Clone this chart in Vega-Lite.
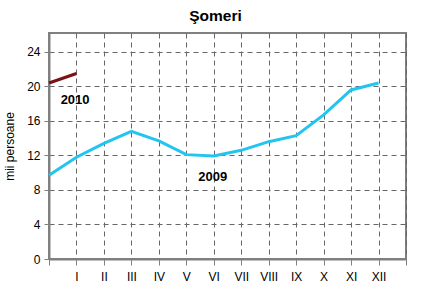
{
  "$schema": "https://vega.github.io/schema/vega-lite/v6.json",
  "width": 357,
  "height": 226,
  "autosize": "none",
  "padding": {"left": 49, "top": 33, "right": 34, "bottom": 33},
  "background": "white",
  "title": {"text": "Şomeri", "font": "Liberation Sans", "fontSize": 15.5, "fontWeight": "bold", "color": "#000", "anchor": "middle", "dx": -12, "offset": 9},
  "config": {
    "view": {"stroke": "#808080", "strokeWidth": 2},
    "font": "Liberation Sans"
  },
  "datasets": {
    "lines": [
      {"serie": "2009", "m": 0, "v": 9.7},
      {"serie": "2009", "m": 1, "v": 11.8},
      {"serie": "2009", "m": 2, "v": 13.4},
      {"serie": "2009", "m": 3, "v": 14.8},
      {"serie": "2009", "m": 4, "v": 13.7},
      {"serie": "2009", "m": 5, "v": 12.1},
      {"serie": "2009", "m": 6, "v": 11.95},
      {"serie": "2009", "m": 7, "v": 12.6},
      {"serie": "2009", "m": 8, "v": 13.6},
      {"serie": "2009", "m": 9, "v": 14.3},
      {"serie": "2009", "m": 10, "v": 16.7},
      {"serie": "2009", "m": 11, "v": 19.6},
      {"serie": "2009", "m": 12, "v": 20.4},
      {"serie": "2010", "m": 0, "v": 20.4},
      {"serie": "2010", "m": 1, "v": 21.5}
    ],
    "labels": [
      {"t": "2010", "m": 0.95, "v": 18.4},
      {"t": "2009", "m": 5.96, "v": 9.5}
    ]
  },
  "encoding": {
    "x": {
      "field": "m", "type": "quantitative",
      "scale": {"domain": [0, 13], "nice": false, "zero": false},
      "axis": {
        "values": [0,1,2,3,4,5,6,7,8,9,10,11,12,13],
        "title": null,
        "labelExpr": "['','I','II','III','IV','V','VI','VII','VIII','IX','X','XI','XII',''][datum.value]",
        "labelFont": "Liberation Sans", "labelFontSize": 12, "labelColor": "#000",
        "labelPadding": 6, "labelOverlap": false, "labelBound": false, "labelFlush": false,
        "grid": true, "gridColor": "#666666", "gridDash": [5, 4], "gridWidth": 1,
        "domainColor": "#808080", "domainWidth": 2,
        "tickColor": "#808080", "tickSize": 6, "tickWidth": 1
      }
    },
    "y": {
      "field": "v", "type": "quantitative",
      "scale": {"domain": [0, 26.2], "nice": false},
      "axis": {
        "values": [0, 4, 8, 12, 16, 20, 24],
        "title": "mii persoane",
        "titleFont": "Liberation Sans", "titleFontSize": 12, "titleFontWeight": "normal", "titleColor": "#000",
        "titlePadding": 10,
        "labelFont": "Liberation Sans", "labelFontSize": 12, "labelColor": "#000",
        "labelPadding": 4, "labelOverlap": false, "labelBound": false, "labelFlush": false,
        "grid": true, "gridColor": "#666666", "gridDash": [5, 4], "gridWidth": 1,
        "domainColor": "#808080", "domainWidth": 2,
        "tickColor": "#808080", "tickSize": 5, "tickWidth": 1
      }
    }
  },
  "layer": [
    {
      "data": {"name": "lines"},
      "mark": {"type": "line", "strokeWidth": 3},
      "encoding": {
        "color": {
          "field": "serie", "type": "nominal",
          "scale": {"domain": ["2009", "2010"], "range": ["#22c4f0", "#7a1414"]},
          "legend": null
        }
      }
    },
    {
      "data": {"name": "labels"},
      "mark": {"type": "text", "font": "Liberation Sans", "fontSize": 13, "fontWeight": "bold", "color": "#000", "align": "center", "baseline": "middle"},
      "encoding": {
        "text": {"field": "t"}
      }
    }
  ]
}
